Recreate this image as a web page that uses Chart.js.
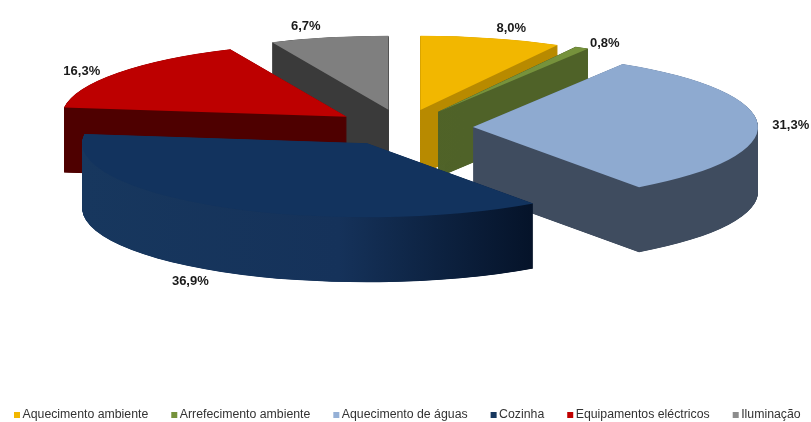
<!DOCTYPE html>
<html>
<head>
<meta charset="utf-8">
<title>Consumo por utilização</title>
<script src="https://cdn.jsdelivr.net/npm/chart.js@4"></script>
<style>
    html, body { margin: 0; padding: 0; background: #fff; }
    canvas { display: block; }
</style>
</head>
<body>
<canvas id="pieChart" width="811" height="422"></canvas>
<script>
// Valores (%)
const categories = ['Aquecimento ambiente', 'Arrefecimento ambiente', 'Aquecimento de águas', 'Cozinha', 'Equipamentos eléctricos', 'Iluminação'];
const shares = [8.0, 0.8, 31.3, 36.9, 16.3, 6.7];

const topColors = ['#f2b700', '#76923c', '#8eaad0', '#12335e', '#bd0000', '#7f7f7f'];
const legendColors = ['#f2b700', '#76923c', '#95b0d6', '#17375e', '#c00000', '#8c8c8c'];
const wallColors = [
    [[0, '#b88a00'], [1, '#b88a00']],
    [[0, '#4f6228'], [1, '#4f6228']],
    [[0, '#3f4c5f'], [1, '#3f4c5f']],
    [[0, '#17375e'], [0.45, '#15325a'], [0.79, '#051329'], [1, '#051329']],
    [[0, '#4e0000'], [1, '#4e0000']],
    [[0, '#3a3a3a'], [1, '#3a3a3a']]
];
// deslocamento de cada etiqueta em relação ao bordo da fatia
const labelNudge = [[20, -10], [23, -4], [33, 1], [-31, 75], [-36, -1], [-23, -11]];

// "3D": a pizza é achatada e empilhada fatia a fatia
const pieX = 403, pieY = 127.6, squash = 0.26, depth = 65, radius = 285, explode = 70;

function midAngle(arc) {
    return (arc.startAngle + arc.endAngle) / 2;
}

function wallFill(ctx, arc, i) {
    const grad = ctx.createLinearGradient(arc.x - radius, 0, arc.x + radius, 0);
    wallColors[i].forEach(([stop, color]) => grad.addColorStop(stop, color));
    return grad;
}

const pie3d = {
    id: 'pie3d',
    beforeDatasetsDraw(chart) {
        const { ctx } = chart;
        const arcs = chart.getDatasetMeta(0).data;
        // de trás para a frente
        const order = arcs.map((arc, i) => i).sort((a, b) => Math.sin(midAngle(arcs[a])) - Math.sin(midAngle(arcs[b])));

        order.forEach(i => {
            const arc = arcs[i];
            const opts = arc.options;
            const mid = midAngle(arc);
            const wall = wallFill(ctx, arc, i);
            // a fatia de 0,8% é tão fina que precisa de contorno para não ficar com riscas
            const thin = arc.endAngle - arc.startAngle < 0.1;
            const wallOpts = { ...opts, backgroundColor: wall, borderColor: wall, borderWidth: thin ? 1 : 0, borderJoinStyle: 'round' };
            for (let d = depth; d >= 0; d -= 0.25) {
                ctx.save();
                ctx.translate(pieX, pieY + d);
                ctx.scale(1, squash);
                ctx.translate(Math.cos(mid) * explode - arc.x, Math.sin(mid) * explode - arc.y);
                arc.options = d === 0 ? opts : wallOpts;
                arc.draw(ctx);
                arc.options = opts;
                ctx.restore();
            }
        });

        // etiquetas de percentagem
        ctx.save();
        ctx.font = 'bold 13px "Liberation Sans"';
        ctx.fillStyle = '#1a1a1a';
        ctx.textAlign = 'center';
        ctx.textBaseline = 'middle';
        arcs.forEach((arc, i) => {
            const mid = midAngle(arc);
            const rim = radius + explode;
            const x = pieX + Math.cos(mid) * rim + labelNudge[i][0];
            const y = pieY + Math.sin(mid) * rim * squash + labelNudge[i][1];
            ctx.fillText(shares[i].toFixed(1).replace('.', ',') + '%', x, y);
        });
        ctx.restore();
        return false;
    }
};

// a legenda nativa parte em duas linhas com este espaçamento, por isso é desenhada aqui
const legendRow = {
    id: 'legendRow',
    afterDraw(chart) {
        const { ctx } = chart;
        ctx.save();
        ctx.font = '12.3px "Liberation Sans"';
        ctx.textBaseline = 'middle';
        let x = 14;
        categories.forEach((text, i) => {
            ctx.fillStyle = legendColors[i];
            ctx.fillRect(x, 412, 6, 6);
            ctx.fillStyle = '#333';
            ctx.fillText(text, x + 8.5, 415);
            x += 8.5 + ctx.measureText(text).width + 23;
        });
        ctx.restore();
    }
};

new Chart(document.getElementById('pieChart'), {
    type: 'pie',
    data: {
        labels: categories,
        datasets: [{
            data: shares,
            backgroundColor: topColors,
            borderWidth: 0,
            radius: radius
        }]
    },
    options: {
        responsive: false,
        animation: false,
        plugins: {
            tooltip: { enabled: false },
            legend: { display: false }
        }
    },
    plugins: [pie3d, legendRow]
});
</script>
</body>
</html>
